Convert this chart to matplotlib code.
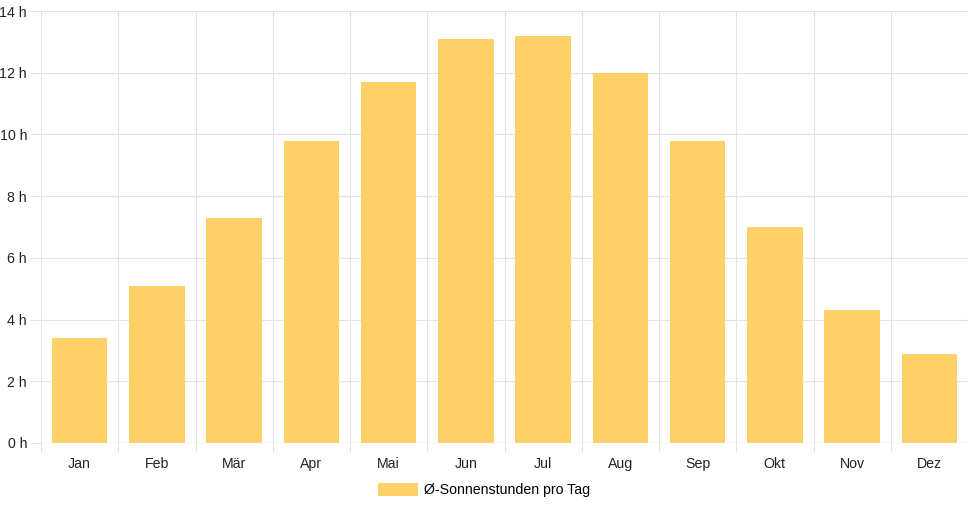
import matplotlib
matplotlib.use("Agg")
import matplotlib.pyplot as plt
from matplotlib.patches import Patch

months = ["Jan", "Feb", "Mär", "Apr", "Mai", "Jun", "Jul", "Aug", "Sep", "Okt", "Nov", "Dez"]
sun_hours = [3.4, 5.1, 7.3, 9.8, 11.7, 13.1, 13.2, 12.0, 9.8, 7.0, 4.3, 2.9]
y_ticks = [0, 2, 4, 6, 8, 10, 12, 14]
legend_label = "Ø-Sonnenstunden pro Tag"

plt.rcParams["font.family"] = ["Liberation Sans", "DejaVu Sans"]
bar_color = "#fed068"
grid_color = "#e3e3e3"
fs = 10.2

W, H = 968, 508
fig = plt.figure(figsize=(W / 100, H / 100), dpi=100)
left, right, top, bottom = 41, 968, 11, 443
ax = fig.add_axes([left / W, 1 - bottom / H, (right - left) / W, (bottom - top) / H])

x = list(range(len(months)))
ax.bar(x, sun_hours, width=0.72, color=bar_color, zorder=2)

ax.set_xlim(-0.5, len(months) - 0.5)
ax.set_ylim(0, 14)
ax.set_yticks(y_ticks)
ax.set_yticklabels([f"{t} h" for t in y_ticks], fontsize=fs, color="#222222")
ax.set_xticks(x)
ax.set_xticklabels(months, fontsize=fs, color="#222222")
ax.tick_params(axis="x", length=0, pad=10)
ax.tick_params(axis="y", length=8, color=grid_color, pad=2)

# horizontal grid
for t in y_ticks:
    ax.axhline(t, color=grid_color, linewidth=0.8, zorder=1)
# vertical grid at category boundaries, extending below axis
for b in range(len(months) + 1):
    ax.plot([b - 0.5, b - 0.5], [0, 14], color=grid_color, linewidth=0.8, zorder=1)
    ax.plot([b - 0.5, b - 0.5], [0, -8 / 30.8], color=grid_color, linewidth=0.8,
            zorder=1, clip_on=False)
ax.axhline(0, color="#cfcfcf", linewidth=0.9, zorder=3)

for s in ax.spines.values():
    s.set_visible(False)

fig.legend(handles=[Patch(facecolor=bar_color, edgecolor="none")],
           labels=[legend_label], loc="center", bbox_to_anchor=(484 / W, 1 - 490 / H),
           frameon=False, fontsize=fs, handlelength=2.8, handleheight=1.0,
           handletextpad=0.45)

fig.savefig("out.png", dpi=100)
